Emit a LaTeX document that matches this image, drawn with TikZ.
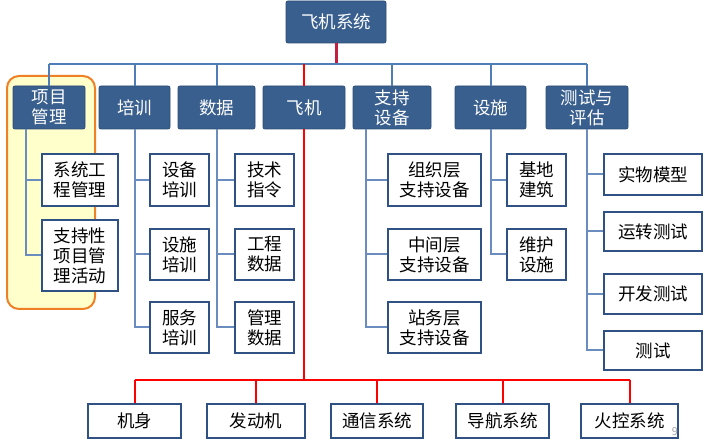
\documentclass[tikz,border=0pt]{standalone}
\usepackage{fontspec}
\setmainfont{Noto Sans CJK SC}
\definecolor{topblue}{HTML}{395F8E}
\definecolor{topedge}{HTML}{2C4D75}
\definecolor{subedge}{HTML}{2F5184}
\definecolor{busblue}{HTML}{4F7DB8}
\definecolor{stemblue}{HTML}{6A8CBF}
\definecolor{rootred}{HTML}{C3203F}
\definecolor{hlfill}{HTML}{FFFFCC}
\definecolor{hlorange}{HTML}{F08026}
\tikzset{
  top/.style={fill=topblue, draw=topedge, line width=0.8pt, rounded corners=2pt,
    text=white, align=center, inner sep=0pt},
  sub/.style={fill=white, draw=subedge, line width=1.8pt, align=center, inner sep=0pt},
  bus/.style={draw=busblue, line width=2pt},
  stem/.style={draw=stemblue, line width=2pt},
  redline/.style={draw=red, line width=2pt},
}
\begin{document}
\begin{tikzpicture}[x=1pt,y=-1pt,font=\fontsize{17.5}{20}\selectfont]
  \useasboundingbox (0,0) rectangle (705,443);
  % highlighted block
  \draw[fill=hlfill, draw=hlorange, line width=2pt, rounded corners=12pt] (7,76) rectangle (95,309);

  % root and first level
  \node[top, minimum width=100pt, minimum height=42pt] (root) at (336,22) {飞机系统};
  \begin{scope}[every node/.append style={top, minimum height=43pt}]
    \node[minimum width=72pt] (pm)    at (49,107.5)    {项目\\管理};
    \node[minimum width=71pt] (train) at (134.5,107.5) {培训};
    \node[minimum width=77pt] (data)  at (216.5,107.5) {数据};
    \node[minimum width=82pt] (plane) at (304,107.5)   {飞机};
    \node[minimum width=78pt] (supp)  at (392,107.5)   {支持\\设备};
    \node[minimum width=71pt] (fac)   at (490.5,107.5) {设施};
    \node[minimum width=82pt] (tst)   at (587,107.5)   {测试与\\评估};
  \end{scope}

  % second level
  \begin{scope}[every node/.append style={sub}]
    \node[minimum width=76pt, minimum height=52pt] (pmA) at (80,180)   {系统工\\程管理};
    \node[minimum width=76pt, minimum height=71pt] (pmB) at (80,255.5) {支持性\\项目管\\理活动};
    \node[minimum width=59pt, minimum height=52pt] (trA) at (179.5,180)   {设备\\培训};
    \node[minimum width=59pt, minimum height=51pt] (trB) at (179.5,254.5) {设施\\培训};
    \node[minimum width=59pt, minimum height=51pt] (trC) at (179.5,327.5) {服务\\培训};
    \node[minimum width=59pt, minimum height=52pt] (dtA) at (264.5,180)   {技术\\指令};
    \node[minimum width=59pt, minimum height=51pt] (dtB) at (264.5,254.5) {工程\\数据};
    \node[minimum width=59pt, minimum height=51pt] (dtC) at (264.5,327.5) {管理\\数据};
    \node[minimum width=93pt, minimum height=52pt] (spA) at (434.5,180)   {组织层\\支持设备};
    \node[minimum width=93pt, minimum height=51pt] (spB) at (434.5,254.5) {中间层\\支持设备};
    \node[minimum width=93pt, minimum height=51pt] (spC) at (434.5,327.5) {站务层\\支持设备};
    \node[minimum width=59pt, minimum height=52pt] (fcA) at (536.5,180)   {基地\\建筑};
    \node[minimum width=59pt, minimum height=51pt] (fcB) at (536.5,254.5) {维护\\设施};
    \node[minimum width=98pt, minimum height=41pt] (tsA) at (653,174.5) {实物模型};
    \node[minimum width=98pt, minimum height=39pt] (tsB) at (653,231.5) {运转测试};
    \node[minimum width=98pt, minimum height=40pt] (tsC) at (653,294)   {开发测试};
    \node[minimum width=98pt, minimum height=39pt] (tsD) at (653,350.5) {测试};
    % aircraft parts
    \node[minimum width=93pt, minimum height=34pt] (b1) at (134.5,421) {机身};
    \node[minimum width=98pt, minimum height=34pt] (b2) at (256,421)   {发动机};
    \node[minimum width=92pt, minimum height=34pt] (b3) at (377,421)   {通信系统};
    \node[minimum width=93pt, minimum height=34pt] (b4) at (502.5,421) {导航系统};
    \node[minimum width=97pt, minimum height=34pt] (b5) at (629.5,421) {火控系统};
  \end{scope}

  \node[text=gray!70, font=\fontsize{11}{12}\selectfont] (pgno) at (675,432) {9};

  % connectors
  \coordinate (busy) at (0,64);
  \coordinate (redy) at (0,380);
  \draw[draw=rootred, line width=3pt] (root.south) -- (root.south |- busy);
  \draw[bus] (pm.north |- busy) -- (tst.north |- busy);
  \foreach \n in {pm,train,data,supp,fac,tst}
    \draw[bus] (\n.north) -- (\n.north |- busy);
  \draw[redline] (plane.north) -- (plane.north |- busy);

  \coordinate (pmstem) at ([xshift=13pt]pm.south west);
  \coordinate (spstem) at ([xshift=13pt]supp.south west);
  \draw[stem] (pmstem) |- (pmA.west);
  \draw[stem] (pmstem) |- (pmB.west);
  \foreach \n in {trA,trB,trC} \draw[stem] (train.south) |- (\n.west);
  \foreach \n in {dtA,dtB,dtC} \draw[stem] (data.south) |- (\n.west);
  \foreach \n in {spA,spB,spC} \draw[stem] (spstem) |- (\n.west);
  \foreach \n in {fcA,fcB} \draw[stem] (fac.south) |- (\n.west);
  \foreach \n in {tsA,tsB,tsC,tsD} \draw[stem] (tst.south) |- (\n.west);

  \draw[redline] (plane.south) -- (plane.south |- redy);
  \draw[redline] (b1.north |- redy) -- (b5.north |- redy);
  \foreach \n in {b1,b2,b3,b4,b5}
    \draw[redline] (\n.north) -- (\n.north |- redy);
\end{tikzpicture}
\end{document}
